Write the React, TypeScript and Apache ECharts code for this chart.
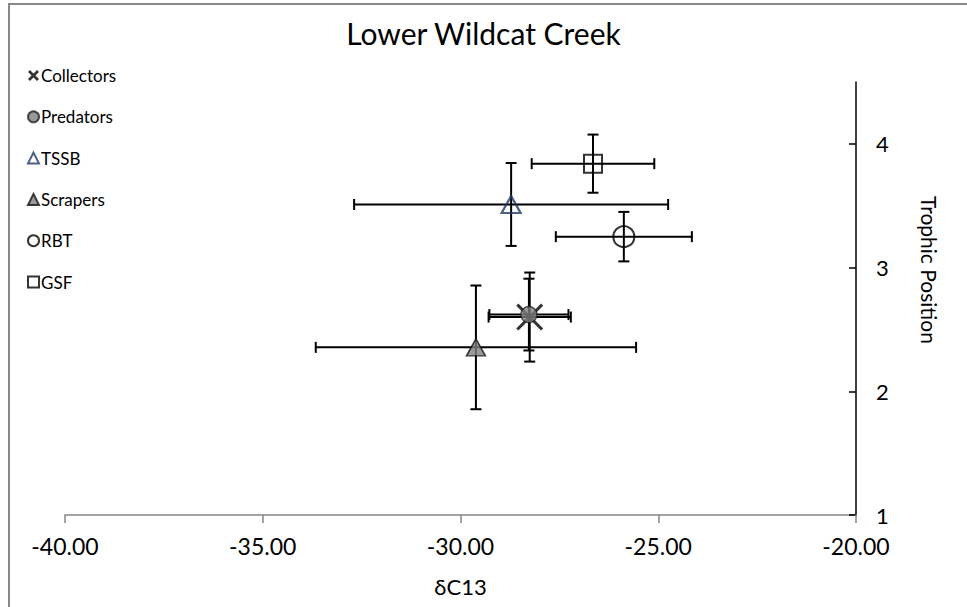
import React, { useEffect, useRef } from "react";
import * as echarts from "echarts";

const groups = ["Collectors", "Predators", "TSSB", "Scrapers", "RBT", "GSF"];
const d13C = [-28.25, -28.27, -28.72, -29.61, -25.87, -26.65];
const trophic = [2.6, 2.62, 3.51, 2.355, 3.25, 3.84];
const d13CErr = [1.04, 1.0, 3.97, 4.05, 1.72, 1.55];
const trophicErr = [0.36, 0.29, 0.335, 0.5, 0.2, 0.235];
const xTicks = [-40, -35, -30, -25, -20];
const yTicks = [1, 2, 3, 4];

const X_SYM = "path://M0,8L8,0L50,42L92,0L100,8L58,50L100,92L92,100L50,58L8,100L0,92L42,50Z";
const X_BOLD = "path://M0,18L18,0L50,32L82,0L100,18L68,50L100,82L82,100L50,68L18,100L0,82L32,50Z";

const FONT = "Lato";

const styles: Record<string, any> = {
  Collectors: { symbol: X_SYM, symbolSize: 27, itemStyle: { color: "#000" } },
  Predators: { symbol: "circle", symbolSize: 16, itemStyle: { color: "#808080", borderColor: "#222", borderWidth: 1.3 } },
  TSSB: { symbol: "triangle", symbolSize: [19, 17], itemStyle: { color: "rgba(255,255,255,0)", borderColor: "#1F3864", borderWidth: 2.2 } },
  Scrapers: { symbol: "triangle", symbolSize: [19, 17], itemStyle: { color: "#808080", borderColor: "#111", borderWidth: 1.5 } },
  RBT: { symbol: "circle", symbolSize: 21, itemStyle: { color: "rgba(255,255,255,0)", borderColor: "#000", borderWidth: 2 } },
  GSF: { symbol: "rect", symbolSize: 18, itemStyle: { color: "rgba(255,255,255,0)", borderColor: "#000", borderWidth: 2 } },
};

export default function App() {
  const ref = useRef<HTMLDivElement>(null);
  useEffect(() => {
    if (!ref.current) return;
    const chart = echarts.init(ref.current, null, { renderer: "svg" });
    const errData = groups.map((g, i) => [d13C[i], trophic[i], d13CErr[i], trophicErr[i]]);
    const scatterSeries = groups.map((g, i) => ({
      name: g,
      type: "scatter",
      z: 3,
      data: [[d13C[i], trophic[i]]],
      ...styles[g],
    }));
    chart.setOption({
      animation: false,
      backgroundColor: "#fff",
      textStyle: { fontFamily: FONT },
      title: {
        text: "Lower Wildcat Creek",
        left: "center",
        top: 13,
        textStyle: { fontFamily: FONT, fontSize: 30, fontWeight: "normal", color: "#000" },
      },
      legend: {
        orient: "vertical",
        left: 22,
        top: 62,
        itemGap: 24.3,
        itemWidth: 11,
        itemHeight: 11,
        textStyle: { fontFamily: FONT, fontSize: 17, color: "#000", padding: [0, 0, 0, -3] },
        data: groups.map((g) => (g === "Collectors" ? { name: g, icon: X_BOLD } : { name: g })),
      },
      grid: { left: 65, right: 111, top: 82, bottom: 92, containLabel: false },
      xAxis: {
        type: "value",
        min: -40,
        max: -20,
        interval: 5,
        name: "δC13",
        nameLocation: "middle",
        nameGap: 60,
        nameTextStyle: { fontFamily: FONT, fontSize: 22, color: "#000" },
        axisLine: { show: true, onZero: false, lineStyle: { color: "#868686", width: 1.5 } },
        axisTick: { show: true, inside: false, length: 8, lineStyle: { color: "#868686", width: 1.5 }, customValues: xTicks },
        axisLabel: {
          fontFamily: FONT,
          fontSize: 23,
          color: "#000",
          margin: 19,
          customValues: xTicks,
          formatter: (v: number) => v.toFixed(2),
        },
        splitLine: { show: false },
      },
      yAxis: {
        type: "value",
        position: "right",
        min: 1,
        max: 4.5,
        interval: 1,
        axisLine: { show: true, onZero: false, lineStyle: { color: "#000", width: 1.5 } },
        axisTick: { show: true, inside: true, length: 7, lineStyle: { color: "#000", width: 1.5 }, customValues: yTicks },
        axisLabel: { fontFamily: FONT, fontSize: 22, color: "#000", margin: 20, customValues: yTicks },
        splitLine: { show: false },
      },
      graphic: [
        {
          type: "polyline",
          shape: { points: [[9, 607], [9, 4], [967, 4]] },
          style: { stroke: "#888", lineWidth: 2, fill: null },
          silent: true,
        },
        {
          type: "text",
          x: 929,
          y: 270,
          rotation: -Math.PI / 2,
          style: {
            text: "Trophic Position",
            fontFamily: FONT,
            fontSize: 21,
            fill: "#000",
            align: "center",
            verticalAlign: "middle",
          },
        },
      ],
      series: [
        {
          name: "errors",
          type: "custom",
          z: 1,
          clip: false,
          encode: { x: 0, y: 1 },
          data: errData,
          renderItem: (params: any, api: any) => {
            const x = api.value(0);
            const y = api.value(1);
            const xe = api.value(2);
            const ye = api.value(3);
            const c = api.coord([x, y]);
            const l = api.coord([x - xe, y]);
            const r = api.coord([x + xe, y]);
            const t = api.coord([x, y + ye]);
            const b = api.coord([x, y - ye]);
            const cap = 5.5;
            const style = { stroke: "#000", lineWidth: 2 };
            const ln = (x1: number, y1: number, x2: number, y2: number) => ({
              type: "line",
              shape: { x1, y1, x2, y2 },
              style,
            });
            return {
              type: "group",
              children: [
                ln(l[0], c[1], r[0], c[1]),
                ln(l[0], c[1] - cap, l[0], c[1] + cap),
                ln(r[0], c[1] - cap, r[0], c[1] + cap),
                ln(c[0], t[1], c[0], b[1]),
                ln(c[0] - cap, t[1], c[0] + cap, t[1]),
                ln(c[0] - cap, b[1], c[0] + cap, b[1]),
              ],
            };
          },
        },
        ...scatterSeries,
      ],
    });
    return () => chart.dispose();
  }, []);
  return (
    <div
      ref={ref}
      style={{ position: "fixed", left: 0, top: 0, width: 967, height: 607 }}
    />
  );
}
